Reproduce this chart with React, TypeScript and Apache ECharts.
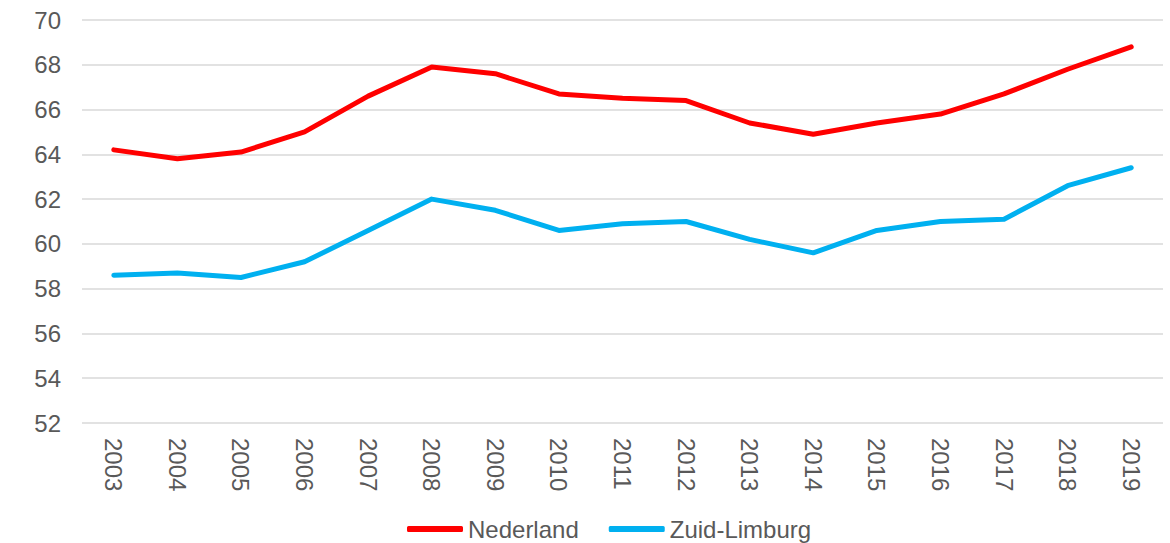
import React, { useEffect, useRef } from "react";
import * as echarts from "echarts";

const years = ["2003","2004","2005","2006","2007","2008","2009","2010","2011","2012","2013","2014","2015","2016","2017","2018","2019"];
const nederland = [64.2, 63.8, 64.1, 65.0, 66.6, 67.9, 67.6, 66.7, 66.5, 66.4, 65.4, 64.9, 65.4, 65.8, 66.7, 67.8, 68.8];
const zuidLimburg = [58.6, 58.7, 58.5, 59.2, 60.6, 62.0, 61.5, 60.6, 60.9, 61.0, 60.2, 59.6, 60.6, 61.0, 61.1, 62.6, 63.4];

const FONT = "'Liberation Sans', Arial, sans-serif";
const TXT = "#595959";

export default function App() {
  const ref = useRef<HTMLDivElement>(null);
  useEffect(() => {
    document.body.style.margin = "0";
    const chart = echarts.init(ref.current!, null, { renderer: "svg" });
    chart.setOption({
      animation: false,
      backgroundColor: "#ffffff",
      grid: { left: 82, right: 7, top: 20, bottom: 120, containLabel: false },
      legend: {
        top: 517,
        left: 407,
        padding: 0,
        icon: "roundRect",
        itemWidth: 56,
        itemHeight: 6,
        itemGap: 30,
        textStyle: { fontFamily: FONT, fontSize: 24, color: TXT },
        data: ["Nederland", "Zuid-Limburg"],
      },
      xAxis: {
        type: "category",
        data: years,
        boundaryGap: true,
        axisLine: { show: false },
        axisTick: { show: false },
        axisLabel: { rotate: -90, margin: 15, fontFamily: FONT, fontSize: 24, color: TXT },
      },
      yAxis: {
        type: "value",
        min: 52,
        max: 70,
        interval: 2,
        axisLine: { show: false },
        axisTick: { show: false },
        axisLabel: { margin: 21, fontFamily: FONT, fontSize: 24, color: TXT },
        splitLine: { lineStyle: { color: "#d9d9d9", width: 1.5 } },
      },
      series: [
        {
          name: "Nederland",
          type: "line",
          data: nederland,
          showSymbol: false,
          symbol: "none",
          color: "#ff0000",
          lineStyle: { color: "#ff0000", width: 5, cap: "round", join: "round" },
        },
        {
          name: "Zuid-Limburg",
          type: "line",
          data: zuidLimburg,
          showSymbol: false,
          symbol: "none",
          color: "#00b0f0",
          lineStyle: { color: "#00b0f0", width: 5, cap: "round", join: "round" },
        },
      ],
    });
    return () => chart.dispose();
  }, []);
  return <div ref={ref} style={{ width: 1170, height: 543 }} />;
}
